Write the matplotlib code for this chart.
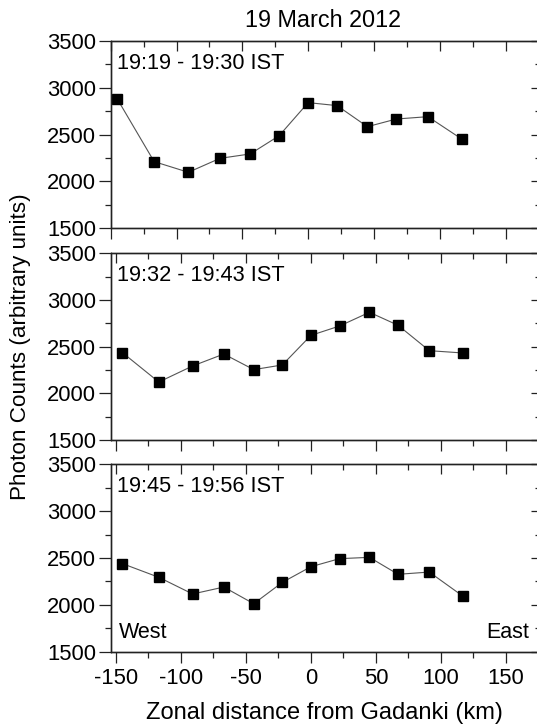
import matplotlib
matplotlib.use('Agg')
import matplotlib.pyplot as plt
from matplotlib.ticker import MultipleLocator

plt.rcParams['font.family'] = ['Liberation Sans', 'DejaVu Sans']
plt.rcParams['axes.unicode_minus'] = False

# zonal distance of each scan point (km)
distance = [-145, -117, -91, -67, -44, -22, 0, 22, 45, 67, 91, 117]

counts_1919 = [2881, 2212, 2098, 2247, 2294, 2489, 2842, 2810, 2585, 2667, 2692, 2450]
counts_1932 = [2436, 2121, 2293, 2421, 2254, 2304, 2621, 2721, 2868, 2729, 2457, 2432]
counts_1945 = [2440, 2294, 2116, 2190, 2012, 2240, 2407, 2493, 2507, 2326, 2350, 2091]

panel_labels = ['19:19 - 19:30 IST', '19:32 - 19:43 IST', '19:45 - 19:56 IST']
series = [counts_1919, counts_1932, counts_1945]

W, H = 537, 724
fig = plt.figure(figsize=(W / 100, H / 100), dpi=100)

# panel boxes in pixels: (left, top, right, bottom)
boxes = [(110.7, 41.0, 538.5, 228.3),
         (110.7, 253.3, 538.5, 440.0),
         (110.7, 464.3, 538.5, 651.7)]
xlims = [(-150, 175), (-154, 175), (-154, 175)]

spine_col = '#222222'

for i, (box, ys, lab, xl) in enumerate(zip(boxes, series, panel_labels, xlims)):
    l, t, r, b = box
    ax = fig.add_axes([l / W, 1 - b / H, (r - l) / W, (b - t) / H])
    ax.plot(distance, ys, color='#555555', lw=0.8, marker='s', ms=6.5,
            mfc='black', mec='black', zorder=3)
    ax.set_xlim(*xl)
    ax.set_ylim(1500, 3500)
    ax.xaxis.set_major_locator(MultipleLocator(50))
    ax.xaxis.set_minor_locator(MultipleLocator(25))
    ax.yaxis.set_major_locator(MultipleLocator(500))
    ax.yaxis.set_minor_locator(MultipleLocator(250))
    ax.tick_params(which='both', direction='out', color=spine_col, width=0.9,
                   labelsize=15.8, pad=2)
    ax.tick_params(which='major', length=8)
    ax.tick_params(which='minor', length=4)
    ax.tick_params(axis='x', which='major', pad=4)
    ax.tick_params(axis='y', which='major', length=9, pad=1.5)
    if i < 2:
        ax.tick_params(axis='x', labelbottom=False)
    for s in ax.spines.values():
        s.set_color(spine_col)
        s.set_linewidth(0.9)

    # inward ticks on the right and top edges
    axr = ax.twinx()
    axr.set_ylim(1500, 3500)
    axr.yaxis.set_major_locator(MultipleLocator(500))
    axr.yaxis.set_minor_locator(MultipleLocator(250))
    axr.tick_params(which='both', direction='in', color=spine_col, width=0.9,
                    labelright=False)
    axr.tick_params(which='major', length=6)
    axr.tick_params(which='minor', length=3)
    axt = ax.twiny()
    axt.set_xlim(*xl)
    axt.xaxis.set_major_locator(MultipleLocator(50))
    axt.xaxis.set_minor_locator(MultipleLocator(25))
    axt.tick_params(which='both', direction='in', color=spine_col, width=0.9,
                    labeltop=False)
    axt.tick_params(which='major', length=7)
    axt.tick_params(which='minor', length=4)
    for a in (axr, axt):
        for s in a.spines.values():
            s.set_color(spine_col)
            s.set_linewidth(0.9)

    ax.text(0.014, 0.88, lab, transform=ax.transAxes, fontsize=15.7,
            ha='left', va='center')

    if i == 2:
        ax.text(0.02, 0.10, 'West', transform=ax.transAxes, fontsize=15.5,
                ha='left', va='center')
        ax.text(0.977, 0.10, 'East', transform=ax.transAxes, fontsize=15.5,
                ha='right', va='center')
        ax.set_xlabel('Zonal distance from Gadanki (km)', fontsize=17,
                      labelpad=9)

fig.text(0.601, 0.972, '19 March 2012', fontsize=16.8, ha='center', va='center')
fig.text(0.038, 0.521, 'Photon Counts (arbitrary units)', fontsize=16.2,
         rotation=90, ha='center', va='center')

fig.savefig('out.png', dpi=100)
